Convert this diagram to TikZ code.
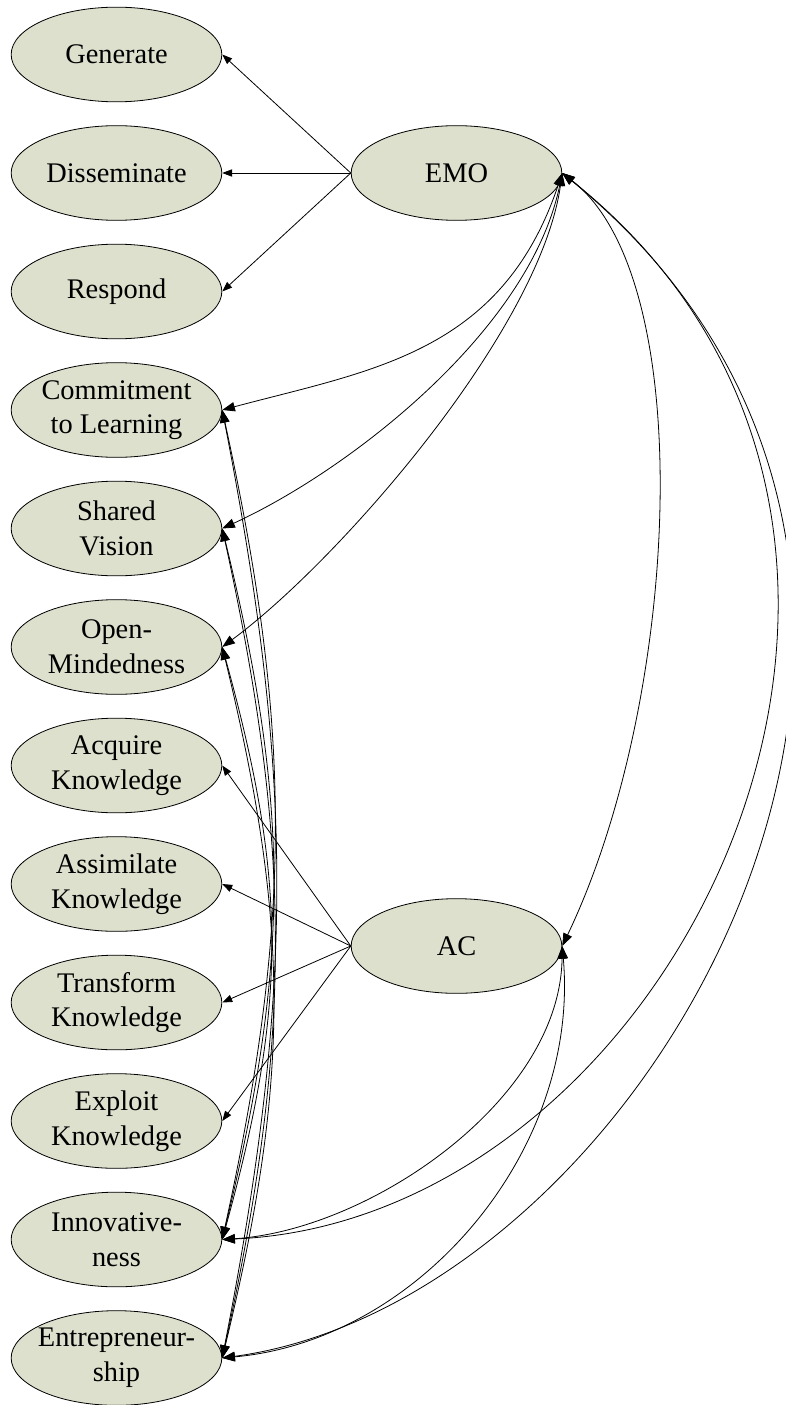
\documentclass[tikz,border=0pt]{standalone}
\usepackage{fontspec}
\setmainfont{Liberation Serif}
\usetikzlibrary{arrows.meta,shapes.geometric}
\definecolor{nodefill}{RGB}{221,224,204}
\begin{document}
\begin{tikzpicture}[x=0.75pt,y=-0.75pt,
  concept/.style={ellipse, draw=black, line width=0.6pt, fill=nodefill,
    minimum width=158pt, minimum height=71pt, inner xsep=-10pt, inner ysep=0pt,
    align=center, font=\fontsize{21.3}{26}\selectfont},
  link/.style={line width=0.6pt, -{Triangle[length=7.5pt,width=5.5pt]}},
  mutual/.style={line width=0.6pt,
    {Triangle[length=9.5pt,width=7pt]}-{Triangle[length=9.5pt,width=7pt]}}]
\useasboundingbox (0,0) rectangle (785,1405);

% indicator column
\node[concept] (gen) at (116.5,54.5)  {Generate};
\node[concept] (dis) at (116.5,173)   {Disseminate};
\node[concept] (res) at (116.5,291.5) {Respond};
\node[concept] (com) at (116.5,410)   {Commitment\\to Learning};
\node[concept] (sha) at (116.5,528.5) {Shared\\Vision};
\node[concept] (opm) at (116.5,647)   {Open-\\Mindedness};
\node[concept] (acq) at (116.5,765.5) {Acquire\\Knowledge};
\node[concept] (ass) at (116.5,884)   {Assimilate\\Knowledge};
\node[concept] (tra) at (116.5,1002.5){Transform\\Knowledge};
\node[concept] (exk) at (116.5,1121)  {Exploit\\Knowledge};
\node[concept] (inn) at (116.5,1239.5){Innovative-\\ness};
\node[concept] (ent) at (116.5,1358)  {Entrepreneur-\\ship};

% latent constructs
\node[concept] (emo) at (456.5,173) {EMO};
\node[concept] (ac)  at (456.5,946) {AC};

% EMO indicators
\draw[link] (emo.west) -- (gen.east);
\draw[link] (emo.west) -- (dis.east);
\draw[link] (emo.west) -- (res.east);

% AC indicators
\draw[link] (ac.west) -- (acq.east);
\draw[link] (ac.west) -- (ass.east);
\draw[link] (ac.west) -- (tra.east);
\draw[link] (ac.west) -- (exk.east);

% correlations of EMO
\draw[mutual] (emo.east) .. controls (502,353) and (372,370) .. (com.east);
\draw[mutual] (emo.east) .. controls (530,330) and (350,470) .. (sha.east);
\draw[mutual] (emo.east) .. controls (540,330) and (340,560) .. (opm.east);
\draw[mutual] (emo.east) .. controls (700,280) and (680,700) .. (ac.east);
\draw[mutual] (emo.east) .. controls (1010,530) and (680,1220) .. (inn.east);
\draw[mutual] (emo.east) .. controls (1060,580) and (650,1300) .. (ent.east);

% correlations of AC
\draw[mutual] (ac.east) .. controls (560,1100) and (370,1230) .. (inn.east);
\draw[mutual] (ac.east) .. controls (580,1150) and (420,1340) .. (ent.east);

% correlations within the left column
\draw[mutual] (com.east) .. controls +(70,320) and +(70,-320) .. (inn.east);
\draw[mutual] (com.east) .. controls +(72,370) and +(72,-370) .. (ent.east);
\draw[mutual] (sha.east) .. controls +(68,280) and +(68,-280) .. (inn.east);
\draw[mutual] (sha.east) .. controls +(70,320) and +(70,-320) .. (ent.east);
\draw[mutual] (opm.east) .. controls +(65,235) and +(65,-235) .. (inn.east);
\draw[mutual] (opm.east) .. controls +(68,280) and +(68,-280) .. (ent.east);
\end{tikzpicture}
\end{document}
